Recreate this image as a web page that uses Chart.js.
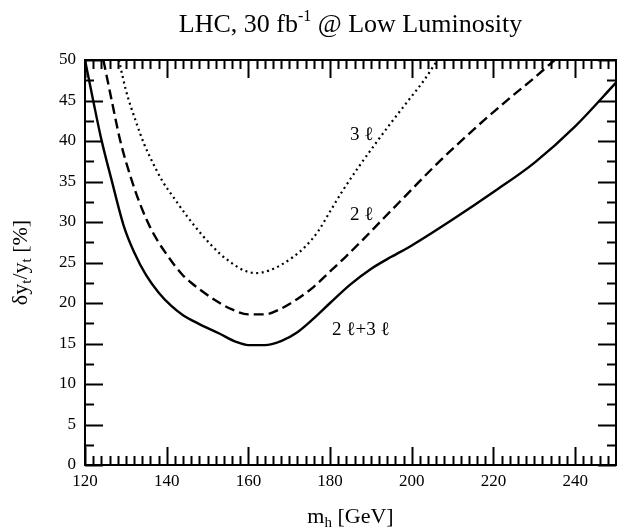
<!DOCTYPE html>
<html>
<head>
  <meta charset="UTF-8" />
  <title>LHC 30 fb-1 Low Luminosity</title>
  <script src="https://cdn.jsdelivr.net/npm/chart.js"></script>
  <style>
    body { margin: 0; background: #fff; }
    #wrap { width: 617px; height: 531px; position: relative; }
  </style>
</head>
<body>
  <div id="wrap"><canvas id="yukawa"></canvas></div>
  <script>
    // m_h [GeV] and delta y_t / y_t [%]
    const mhBoth = [120, 122, 124, 126.5, 129.5, 132, 135, 138, 141, 144, 148, 153, 157, 160, 164, 168, 172, 176, 180, 185, 190, 195, 200, 210, 220, 230, 240, 250];
    const errBoth = [50, 45, 40.2, 35.2, 29.5, 26.3, 23.4, 21.3, 19.7, 18.5, 17.4, 16.2, 15.2, 14.8, 14.8, 15.3, 16.4, 18.1, 20.0, 22.3, 24.2, 25.7, 27.1, 30.3, 33.7, 37.3, 41.8, 47.2];

    const mh2l = [124.5, 126.5, 128.6, 131.4, 133.5, 135.9, 138, 140, 142, 144, 146, 148, 152, 156, 160, 164, 168, 172, 176, 180, 184, 188, 193, 199, 205, 211, 218, 224, 230, 235];
    const err2l = [50, 45.1, 40.1, 35.2, 32.2, 29.4, 27.5, 26.0, 24.6, 23.4, 22.5, 21.7, 20.3, 19.2, 18.6, 18.6, 19.3, 20.5, 22.0, 23.9, 25.8, 27.8, 30.4, 33.5, 36.6, 39.5, 42.7, 45.3, 47.8, 50];

    const mh3l = [128.3, 130, 132.6, 134.5, 136.7, 139, 141.6, 145, 149, 153, 156, 159, 162, 165, 168, 171, 174, 177, 180, 183, 187, 191, 195, 199, 203, 206.3];
    const err3l = [50, 46.3, 42.2, 39.6, 37.2, 35.0, 33.1, 30.7, 28.2, 26.1, 24.9, 24.0, 23.7, 24.0, 24.7, 25.7, 27.0, 28.8, 31.3, 33.8, 36.8, 39.6, 42.3, 44.9, 47.5, 50];

    const xTicks = [120, 140, 160, 180, 200, 220, 240];
    const yTicks = [0, 5, 10, 15, 20, 25, 30, 35, 40, 45, 50];

    // curve labels: [text, m_h, value]
    const curveLabels = [
      ['3 \u2113', 184.9, 40.7],
      ['2 \u2113', 184.9, 30.9],
      ['2 \u2113+3 \u2113', 180.5, 16.7]
    ];

    const SERIF = '"Liberation Serif", "DejaVu Serif", serif';

    function toPoints(xs, ys) {
      return xs.map((x, i) => ({ x: x, y: ys[i] }));
    }

    // frame, inward ticks, titles and curve labels
    const decorations = {
      id: 'decorations',
      afterDraw(chart) {
        const c = chart.ctx;
        const a = chart.chartArea;
        const xs = chart.scales.x;
        const ys = chart.scales.y;
        c.save();
        c.strokeStyle = '#000';
        c.lineWidth = 2;
        c.strokeRect(a.left, a.top, a.right - a.left, a.bottom - a.top);

        const major = 18, minor = 9;
        c.beginPath();
        for (let v = xs.min; v <= xs.max; v += 2) {
          const px = Math.round(xs.getPixelForValue(v)) + 0.5;
          const len = xTicks.includes(v) ? major : minor;
          c.moveTo(px, a.bottom); c.lineTo(px, a.bottom - len);
          c.moveTo(px, a.top); c.lineTo(px, a.top + len);
        }
        for (let v = ys.min; v <= ys.max; v += 2.5) {
          const py = Math.round(ys.getPixelForValue(v)) + 0.5;
          const len = yTicks.includes(v) ? major : minor;
          c.moveTo(a.left, py); c.lineTo(a.left + len, py);
          c.moveTo(a.right, py); c.lineTo(a.right - len, py);
        }
        c.lineWidth = 2;
        c.stroke();

        c.fillStyle = '#000';
        c.textBaseline = 'alphabetic';

        // title
        const cx = (a.left + a.right) / 2;
        const big = '26px ' + SERIF, sup = '16px ' + SERIF;
        c.font = big;
        const t1 = 'LHC, 30 fb', t2 = '-1', t3 = ' @ Low Luminosity';
        const w1 = c.measureText(t1).width, w3 = c.measureText(t3).width;
        c.font = sup;
        const w2 = c.measureText(t2).width;
        let x0 = cx - (w1 + w2 + w3) / 2;
        const by = 32;
        c.textAlign = 'left';
        c.font = big; c.fillText(t1, x0, by);
        c.font = sup; c.fillText(t2, x0 + w1, by - 11);
        c.font = big; c.fillText(t3, x0 + w1 + w2, by);

        // x title: m_h [GeV]
        const xf = '22px ' + SERIF, xs2 = '15px ' + SERIF;
        c.font = xf;
        const wm = c.measureText('m').width, wg = c.measureText(' [GeV]').width;
        c.font = xs2;
        const wh = c.measureText('h').width;
        x0 = cx - (wm + wh + wg) / 2;
        const xb = 523;
        c.font = xf; c.fillText('m', x0, xb);
        c.font = xs2; c.fillText('h', x0 + wm, xb + 4);
        c.font = xf; c.fillText(' [GeV]', x0 + wm + wh, xb);

        // y title: delta y_t / y_t [%]
        c.save();
        c.translate(27, (a.top + a.bottom) / 2);
        c.rotate(-Math.PI / 2);
        const parts = [['\u03b4y', xf, 0], ['t', xs2, 4], ['/y', xf, 0], ['t', xs2, 4], [' [%]', xf, 0]];
        let tw = 0;
        parts.forEach(p => { c.font = p[1]; tw += c.measureText(p[0]).width; });
        let px = -tw / 2;
        parts.forEach(p => {
          c.font = p[1];
          c.fillText(p[0], px, p[2]);
          px += c.measureText(p[0]).width;
        });
        c.restore();

        // curve labels
        c.font = '19px ' + SERIF;
        c.textBaseline = 'middle';
        curveLabels.forEach(l => {
          c.fillText(l[0], xs.getPixelForValue(l[1]), ys.getPixelForValue(l[2]));
        });
        c.restore();
      }
    };

    const lineBase = {
      borderColor: '#000',
      backgroundColor: '#000',
      pointRadius: 0,
      fill: false,
      cubicInterpolationMode: 'monotone'
    };

    new Chart(document.getElementById('yukawa'), {
      type: 'line',
      data: {
        datasets: [
          Object.assign({ label: '2l+3l', data: toPoints(mhBoth, errBoth), borderWidth: 2.4 }, lineBase),
          Object.assign({ label: '2l', data: toPoints(mh2l, err2l), borderWidth: 2.4, borderDash: [10, 5] }, lineBase),
          Object.assign({ label: '3l', data: toPoints(mh3l, err3l), borderWidth: 2.2, borderDash: [2, 3.5] }, lineBase)
        ]
      },
      options: {
        responsive: true,
        maintainAspectRatio: false,
        animation: false,
        layout: { padding: { top: 60, right: 1, left: 0, bottom: 0 } },
        plugins: { legend: { display: false }, tooltip: { enabled: false } },
        scales: {
          x: {
            type: 'linear',
            min: 120, max: 250,
            grid: { display: false, drawTicks: false },
            border: { display: false },
            afterBuildTicks: s => { s.ticks = xTicks.map(v => ({ value: v })); },
            afterFit: s => { s.height = 66; },
            ticks: { color: '#000', padding: 6, maxRotation: 0, font: { family: SERIF, size: 17 } }
          },
          y: {
            min: 0, max: 50,
            grid: { display: false, drawTicks: false },
            border: { display: false },
            afterBuildTicks: s => { s.ticks = yTicks.map(v => ({ value: v })); },
            afterFit: s => { s.width = 85; },
            ticks: { color: '#000', padding: 9, font: { family: SERIF, size: 17 } }
          }
        }
      },
      plugins: [decorations]
    });
  </script>
</body>
</html>
